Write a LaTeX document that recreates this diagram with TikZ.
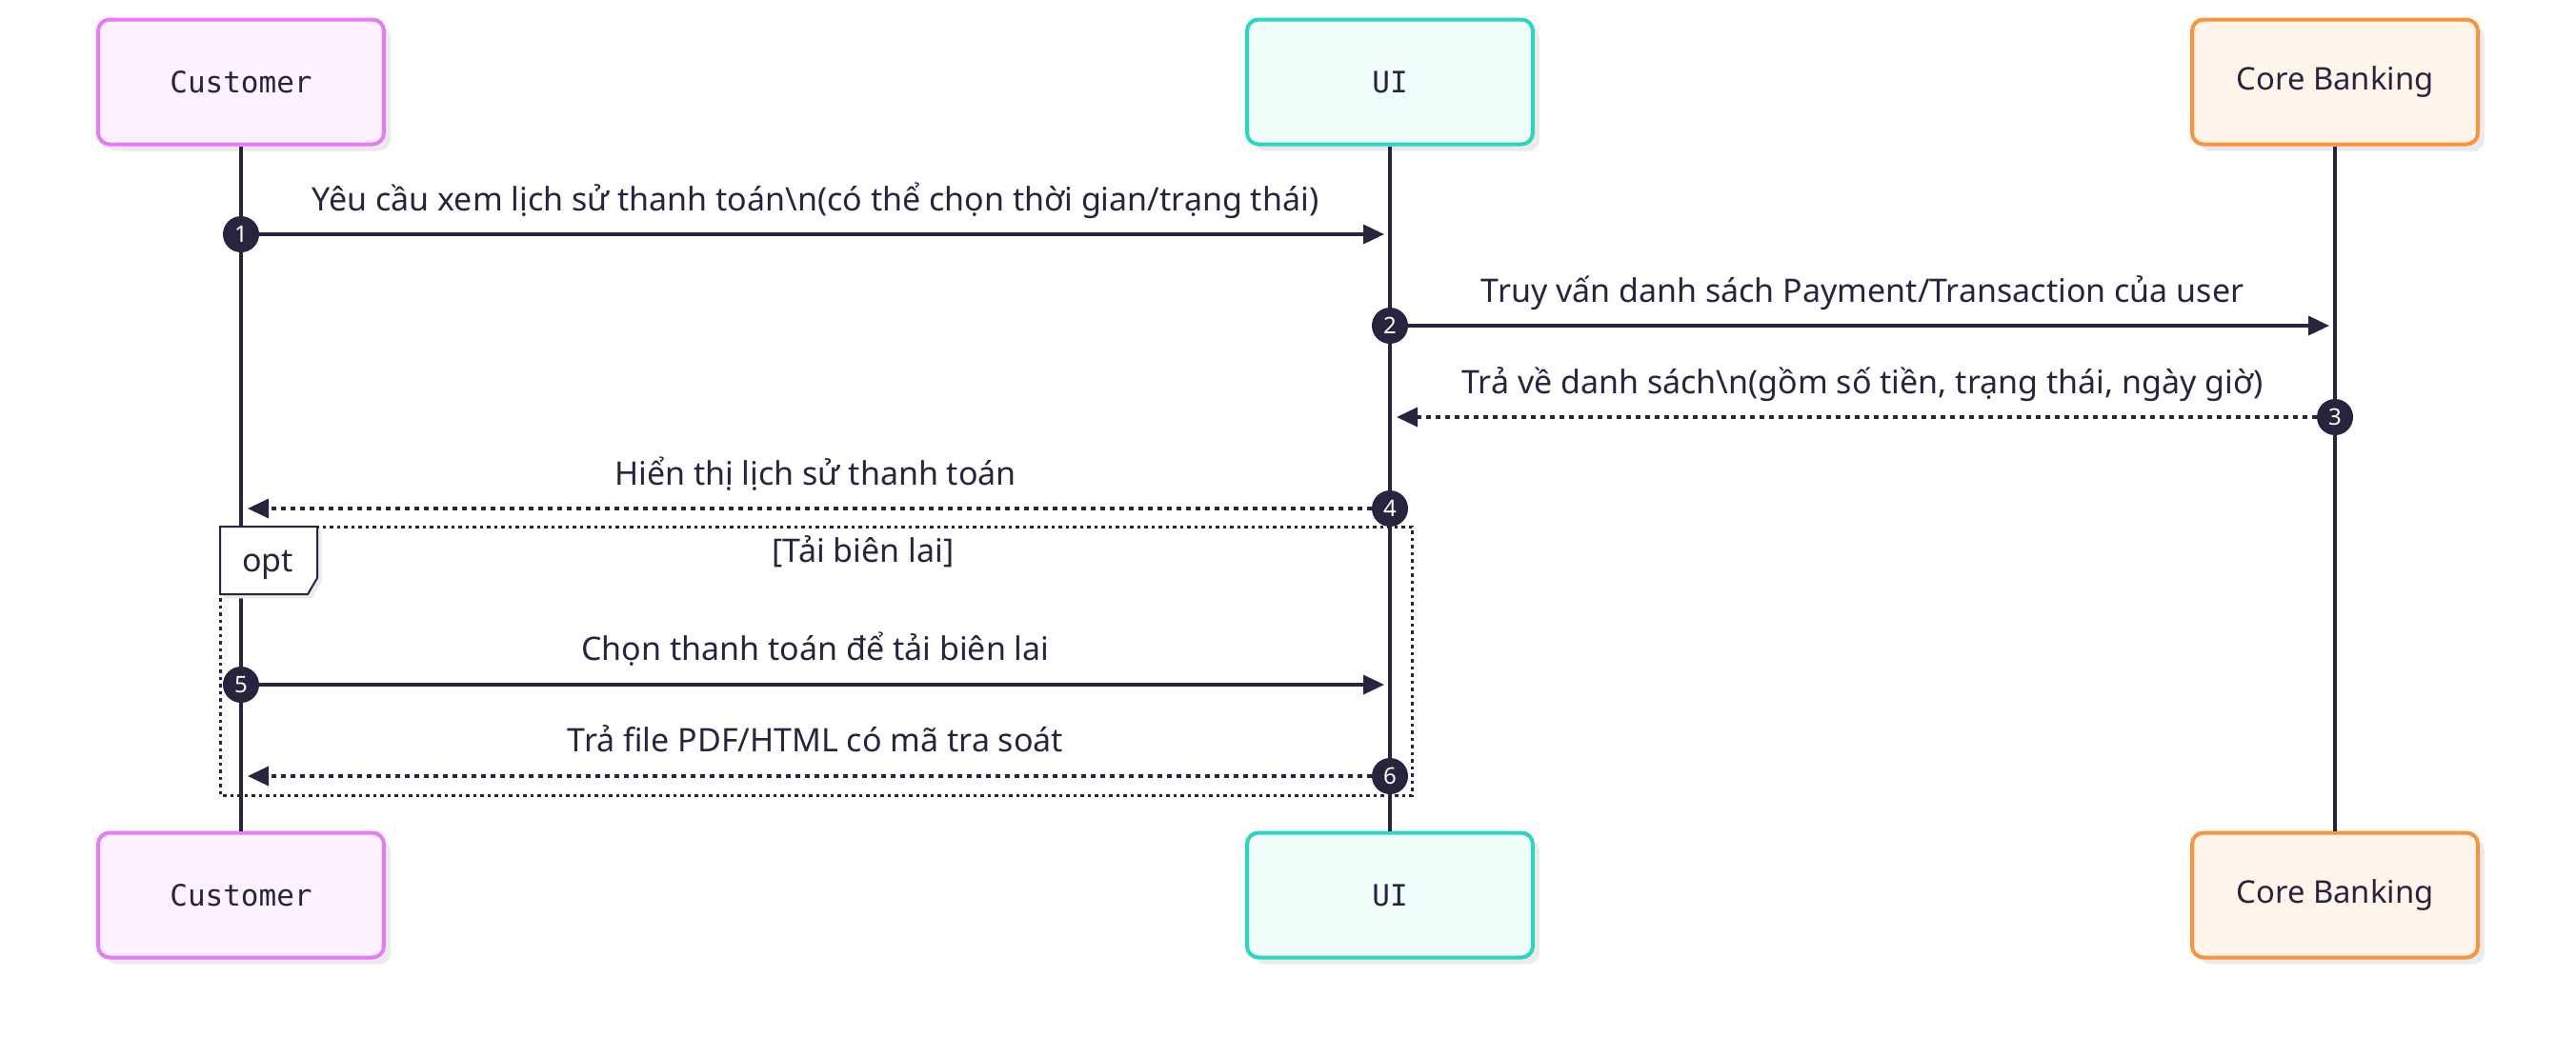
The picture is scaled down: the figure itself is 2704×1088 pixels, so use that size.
\documentclass[tikz,border=0pt]{standalone}
\usepackage{fontspec}
\setmainfont{Noto Sans}
\newfontfamily\actormono{DejaVu Sans Mono}
\usetikzlibrary{arrows.meta,shadows}
\definecolor{ink}{HTML}{28243D}
\definecolor{custline}{HTML}{E879F9}
\definecolor{custfill}{HTML}{FDF2FF}
\definecolor{uiline}{HTML}{2DD4BF}
\definecolor{uifill}{HTML}{F0FDFA}
\definecolor{coreline}{HTML}{FB923C}
\definecolor{corefill}{HTML}{FFF5EB}
\definecolor{shade}{HTML}{EBEBEB}
\begin{document}
\begin{tikzpicture}[x=0.5pt,y=-0.5pt,
  actor/.style={draw,rounded corners=6pt,line width=2pt,minimum width=150pt,minimum height=65.5pt,text=ink,font=\fontsize{16.4}{19}\selectfont,drop shadow={shadow xshift=3.5pt,shadow yshift=-3.5pt,fill=shade,opacity=1}},
  lbl/.style={text=ink,anchor=base,inner sep=0pt,font=\fontsize{17}{20}\selectfont},
  num/.style={circle,fill=ink,text=white,minimum size=19pt,inner sep=0pt,font=\fontsize{12}{12}\selectfont},
  msg/.style={draw=ink,line width=1.75pt,-{Triangle[length=11pt,width=10pt]}},
  ret/.style={msg,dash pattern=on 2.5pt off 2.5pt}]
\useasboundingbox (0,0) rectangle (2704,1088);
\node[actor,draw=custline,fill=custfill,font=\actormono\fontsize{15.5}{18}\selectfont] (cust) at (253,86) {Customer};
\node[actor,draw=uiline,fill=uifill,font=\actormono\fontsize{15.5}{18}\selectfont] (ui) at (1459,86) {UI};
\node[actor,draw=coreline,fill=corefill] (core) at (2451,86) {Core Banking};
\node[actor,draw=custline,fill=custfill,font=\actormono\fontsize{15.5}{18}\selectfont] (custb) at (253,940) {Customer};
\node[actor,draw=uiline,fill=uifill,font=\actormono\fontsize{15.5}{18}\selectfont] (uib) at (1459,940) {UI};
\node[actor,draw=coreline,fill=corefill] (coreb) at (2451,940) {Core Banking};
\draw[ink,line width=1.75pt] (cust.south) -- (custb.north);
\draw[ink,line width=1.75pt] (ui.south) -- (uib.north);
\draw[ink,line width=1.75pt] (core.south) -- (coreb.north);
\draw[ink,line width=1.5pt,dash pattern=on 1.75pt off 2pt] (231,553) rectangle (1482,835);
\filldraw[fill=shade,draw=shade] (235,557) -- (337,557) -- (337,611) -- (327,628) -- (235,628) -- cycle;
\filldraw[fill=white,draw=ink,line width=1pt] (231,553) -- (333,553) -- (333,607) -- (323,624) -- (231,624) -- cycle;
\node[lbl] (opt) at (281,600) {opt};
\node[lbl] (optname) at (906,590) {[Tải biên lai]};
\node[num] (n1) at (253,246) {1};
\coordinate (t1) at (1453,246);
\draw[msg] (n1) -- (t1);
\node[lbl] (l1) at (856,221) {Yêu cầu xem lịch sử thanh toán\textbackslash n(có thể chọn thời gian/trạng thái)};
\node[num] (n2) at (1459,342) {2};
\coordinate (t2) at (2445,342);
\draw[msg] (n2) -- (t2);
\node[lbl] (l2) at (1955,317) {Truy vấn danh sách Payment/Transaction của user};
\node[num] (n3) at (2451,438) {3};
\coordinate (t3) at (1466,438);
\draw[ret] (n3) -- (t3);
\node[lbl] (l3) at (1955,413) {Trả về danh sách\textbackslash n(gồm số tiền, trạng thái, ngày giờ)};
\node[num] (n4) at (1459,534) {4};
\coordinate (t4) at (260,534);
\draw[ret] (n4) -- (t4);
\node[lbl] (l4) at (856,509) {Hiển thị lịch sử thanh toán};
\node[num] (n5) at (253,719) {5};
\coordinate (t5) at (1453,719);
\draw[msg] (n5) -- (t5);
\node[lbl] (l5) at (856,693) {Chọn thanh toán để tải biên lai};
\node[num] (n6) at (1459,815) {6};
\coordinate (t6) at (260,815);
\draw[ret] (n6) -- (t6);
\node[lbl] (l6) at (856,789) {Trả file PDF/HTML có mã tra soát};
\end{tikzpicture}
\end{document}
